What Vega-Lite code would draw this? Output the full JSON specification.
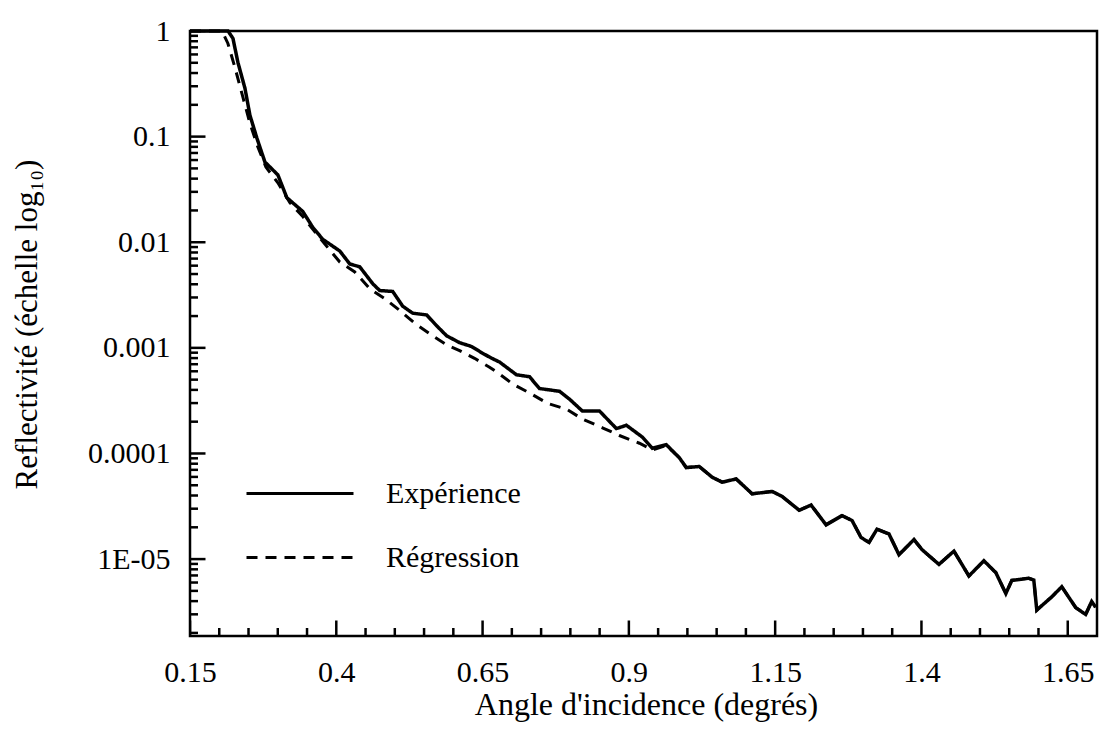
{
  "$schema": "https://vega.github.io/schema/vega-lite/v6.json",
  "autosize": {"type": "none"},
  "padding": {"left": 190, "top": 31, "right": 5, "bottom": 99},
  "width": 907,
  "height": 605,
  "background": "white",
  "config": {
    "view": {"stroke": "black", "strokeWidth": 2.5},
    "font": "Liberation Serif",
    "axis": {"grid": false, "domain": false, "ticks": false, "labelColor": "black", "titleColor": "black", "labelFont": "Liberation Serif", "titleFont": "Liberation Serif", "titleFontWeight": "normal", "labelFontSize": 30, "titleFontSize": 31}
  },
  "datasets": {
    "curves": [
      {"serie": "Expérience", "angle": 0.150, "R": 1},
      {"serie": "Expérience", "angle": 0.193, "R": 1},
      {"serie": "Expérience", "angle": 0.215, "R": 1},
      {"serie": "Expérience", "angle": 0.2234, "R": 0.851},
      {"serie": "Expérience", "angle": 0.2319, "R": 0.504},
      {"serie": "Expérience", "angle": 0.2439, "R": 0.287},
      {"serie": "Expérience", "angle": 0.2524, "R": 0.1595},
      {"serie": "Expérience", "angle": 0.2643, "R": 0.0968},
      {"serie": "Expérience", "angle": 0.2780, "R": 0.0575},
      {"serie": "Expérience", "angle": 0.3002, "R": 0.0434},
      {"serie": "Expérience", "angle": 0.3155, "R": 0.0264},
      {"serie": "Expérience", "angle": 0.3428, "R": 0.01954},
      {"serie": "Expérience", "angle": 0.3599, "R": 0.0138},
      {"serie": "Expérience", "angle": 0.3770, "R": 0.01064},
      {"serie": "Expérience", "angle": 0.4060, "R": 0.00826},
      {"serie": "Expérience", "angle": 0.4230, "R": 0.00623},
      {"serie": "Expérience", "angle": 0.4401, "R": 0.00585},
      {"serie": "Expérience", "angle": 0.4623, "R": 0.00405},
      {"serie": "Expérience", "angle": 0.4742, "R": 0.00349},
      {"serie": "Expérience", "angle": 0.4964, "R": 0.00342},
      {"serie": "Expérience", "angle": 0.5135, "R": 0.00248},
      {"serie": "Expérience", "angle": 0.5305, "R": 0.00213},
      {"serie": "Expérience", "angle": 0.5544, "R": 0.00205},
      {"serie": "Expérience", "angle": 0.5715, "R": 0.00162},
      {"serie": "Expérience", "angle": 0.5886, "R": 0.00130},
      {"serie": "Expérience", "angle": 0.6107, "R": 0.00112},
      {"serie": "Expérience", "angle": 0.6312, "R": 0.00103},
      {"serie": "Expérience", "angle": 0.6500, "R": 0.000889},
      {"serie": "Expérience", "angle": 0.6654, "R": 0.000798},
      {"serie": "Expérience", "angle": 0.6790, "R": 0.000734},
      {"serie": "Expérience", "angle": 0.7080, "R": 0.000556},
      {"serie": "Expérience", "angle": 0.7302, "R": 0.000533},
      {"serie": "Expérience", "angle": 0.7473, "R": 0.000412},
      {"serie": "Expérience", "angle": 0.7814, "R": 0.000388},
      {"serie": "Expérience", "angle": 0.7985, "R": 0.000327},
      {"serie": "Expérience", "angle": 0.8206, "R": 0.000252},
      {"serie": "Expérience", "angle": 0.8496, "R": 0.000253},
      {"serie": "Expérience", "angle": 0.8787, "R": 0.000172},
      {"serie": "Expérience", "angle": 0.8957, "R": 0.000185},
      {"serie": "Expérience", "angle": 0.9230, "R": 0.000143},
      {"serie": "Expérience", "angle": 0.9401, "R": 0.000112},
      {"serie": "Expérience", "angle": 0.9640, "R": 0.000121},
      {"serie": "Expérience", "angle": 0.9862, "R": 0.0000912},
      {"serie": "Expérience", "angle": 0.9981, "R": 0.0000735},
      {"serie": "Expérience", "angle": 1.0203, "R": 0.0000753},
      {"serie": "Expérience", "angle": 1.0425, "R": 0.0000595},
      {"serie": "Expérience", "angle": 1.0595, "R": 0.0000535},
      {"serie": "Expérience", "angle": 1.0834, "R": 0.0000574},
      {"serie": "Expérience", "angle": 1.1107, "R": 0.0000415},
      {"serie": "Expérience", "angle": 1.1449, "R": 0.0000437},
      {"serie": "Expérience", "angle": 1.1619, "R": 0.0000392},
      {"serie": "Expérience", "angle": 1.1910, "R": 0.0000290},
      {"serie": "Expérience", "angle": 1.2114, "R": 0.0000325},
      {"serie": "Expérience", "angle": 1.2370, "R": 0.0000211},
      {"serie": "Expérience", "angle": 1.2643, "R": 0.0000258},
      {"serie": "Expérience", "angle": 1.2814, "R": 0.0000232},
      {"serie": "Expérience", "angle": 1.2968, "R": 0.0000160},
      {"serie": "Expérience", "angle": 1.3104, "R": 0.0000144},
      {"serie": "Expérience", "angle": 1.3241, "R": 0.0000192},
      {"serie": "Expérience", "angle": 1.3445, "R": 0.0000173},
      {"serie": "Expérience", "angle": 1.3616, "R": 0.0000110},
      {"serie": "Expérience", "angle": 1.3872, "R": 0.0000153},
      {"serie": "Expérience", "angle": 1.4009, "R": 0.0000123},
      {"serie": "Expérience", "angle": 1.4299, "R": 0.00000891},
      {"serie": "Expérience", "angle": 1.4555, "R": 0.0000119},
      {"serie": "Expérience", "angle": 1.4811, "R": 0.00000692},
      {"serie": "Expérience", "angle": 1.5067, "R": 0.00000964},
      {"serie": "Expérience", "angle": 1.5271, "R": 0.00000745},
      {"serie": "Expérience", "angle": 1.5442, "R": 0.00000472},
      {"serie": "Expérience", "angle": 1.5544, "R": 0.00000628},
      {"serie": "Expérience", "angle": 1.5834, "R": 0.00000659},
      {"serie": "Expérience", "angle": 1.5920, "R": 0.00000633},
      {"serie": "Expérience", "angle": 1.5971, "R": 0.00000329},
      {"serie": "Expérience", "angle": 1.6227, "R": 0.00000439},
      {"serie": "Expérience", "angle": 1.6398, "R": 0.00000547},
      {"serie": "Expérience", "angle": 1.6637, "R": 0.00000347},
      {"serie": "Expérience", "angle": 1.6806, "R": 0.00000299},
      {"serie": "Expérience", "angle": 1.6909, "R": 0.00000397},
      {"serie": "Expérience", "angle": 1.6977, "R": 0.00000350},
      {"serie": "Régression", "angle": 0.150, "R": 1},
      {"serie": "Régression", "angle": 0.2046, "R": 1},
      {"serie": "Régression", "angle": 0.2148, "R": 0.762},
      {"serie": "Régression", "angle": 0.2268, "R": 0.452},
      {"serie": "Régression", "angle": 0.2404, "R": 0.236},
      {"serie": "Régression", "angle": 0.2524, "R": 0.134},
      {"serie": "Régression", "angle": 0.2660, "R": 0.0796},
      {"serie": "Régression", "angle": 0.2797, "R": 0.0516},
      {"serie": "Régression", "angle": 0.3002, "R": 0.0365},
      {"serie": "Régression", "angle": 0.3206, "R": 0.0237},
      {"serie": "Régression", "angle": 0.3428, "R": 0.0175},
      {"serie": "Régression", "angle": 0.3667, "R": 0.01188},
      {"serie": "Régression", "angle": 0.4060, "R": 0.00649},
      {"serie": "Régression", "angle": 0.4316, "R": 0.00523},
      {"serie": "Régression", "angle": 0.4572, "R": 0.00363},
      {"serie": "Régression", "angle": 0.4828, "R": 0.00293},
      {"serie": "Régression", "angle": 0.5084, "R": 0.00226},
      {"serie": "Régression", "angle": 0.5340, "R": 0.00171},
      {"serie": "Régression", "angle": 0.5630, "R": 0.00132},
      {"serie": "Régression", "angle": 0.5886, "R": 0.00107},
      {"serie": "Régression", "angle": 0.6107, "R": 0.000942},
      {"serie": "Régression", "angle": 0.6363, "R": 0.000796},
      {"serie": "Régression", "angle": 0.6619, "R": 0.000656},
      {"serie": "Régression", "angle": 0.6790, "R": 0.000565},
      {"serie": "Régression", "angle": 0.7012, "R": 0.000456},
      {"serie": "Régression", "angle": 0.7353, "R": 0.000361},
      {"serie": "Régression", "angle": 0.7609, "R": 0.000298},
      {"serie": "Régression", "angle": 0.7933, "R": 0.000263},
      {"serie": "Régression", "angle": 0.8206, "R": 0.000212},
      {"serie": "Régression", "angle": 0.8548, "R": 0.000175},
      {"serie": "Régression", "angle": 0.8838, "R": 0.000148},
      {"serie": "Régression", "angle": 0.9180, "R": 0.000125},
      {"serie": "Régression", "angle": 0.9401, "R": 0.000108},
      {"serie": "Régression", "angle": 0.9640, "R": 0.000119},
      {"serie": "Régression", "angle": 0.9862, "R": 0.0000912},
      {"serie": "Régression", "angle": 0.9981, "R": 0.0000735},
      {"serie": "Régression", "angle": 1.0203, "R": 0.0000753},
      {"serie": "Régression", "angle": 1.0425, "R": 0.0000595},
      {"serie": "Régression", "angle": 1.0595, "R": 0.0000535},
      {"serie": "Régression", "angle": 1.0834, "R": 0.0000574},
      {"serie": "Régression", "angle": 1.1107, "R": 0.0000415},
      {"serie": "Régression", "angle": 1.1449, "R": 0.0000437},
      {"serie": "Régression", "angle": 1.1619, "R": 0.0000392},
      {"serie": "Régression", "angle": 1.1910, "R": 0.0000290},
      {"serie": "Régression", "angle": 1.2114, "R": 0.0000325},
      {"serie": "Régression", "angle": 1.2370, "R": 0.0000211},
      {"serie": "Régression", "angle": 1.2643, "R": 0.0000258},
      {"serie": "Régression", "angle": 1.2814, "R": 0.0000232},
      {"serie": "Régression", "angle": 1.2968, "R": 0.0000160},
      {"serie": "Régression", "angle": 1.3104, "R": 0.0000144},
      {"serie": "Régression", "angle": 1.3241, "R": 0.0000192},
      {"serie": "Régression", "angle": 1.3445, "R": 0.0000173},
      {"serie": "Régression", "angle": 1.3616, "R": 0.0000110},
      {"serie": "Régression", "angle": 1.3872, "R": 0.0000153},
      {"serie": "Régression", "angle": 1.4009, "R": 0.0000123},
      {"serie": "Régression", "angle": 1.4299, "R": 0.00000891},
      {"serie": "Régression", "angle": 1.4555, "R": 0.0000119},
      {"serie": "Régression", "angle": 1.4811, "R": 0.00000692},
      {"serie": "Régression", "angle": 1.5067, "R": 0.00000964},
      {"serie": "Régression", "angle": 1.5271, "R": 0.00000745},
      {"serie": "Régression", "angle": 1.5442, "R": 0.00000472},
      {"serie": "Régression", "angle": 1.5544, "R": 0.00000628},
      {"serie": "Régression", "angle": 1.5834, "R": 0.00000659},
      {"serie": "Régression", "angle": 1.5920, "R": 0.00000633},
      {"serie": "Régression", "angle": 1.5971, "R": 0.00000329},
      {"serie": "Régression", "angle": 1.6227, "R": 0.00000439},
      {"serie": "Régression", "angle": 1.6398, "R": 0.00000547},
      {"serie": "Régression", "angle": 1.6637, "R": 0.00000347},
      {"serie": "Régression", "angle": 1.6806, "R": 0.00000299},
      {"serie": "Régression", "angle": 1.6909, "R": 0.00000397},
      {"serie": "Régression", "angle": 1.6977, "R": 0.00000350}
    ],
    "xticks": [
      {"value": 0.15, "kind": "major"}, {"value": 0.2, "kind": "minor"}, {"value": 0.25, "kind": "minor"}, {"value": 0.3, "kind": "minor"}, {"value": 0.35, "kind": "minor"},
      {"value": 0.4, "kind": "major"}, {"value": 0.45, "kind": "minor"}, {"value": 0.5, "kind": "minor"}, {"value": 0.55, "kind": "minor"}, {"value": 0.6, "kind": "minor"},
      {"value": 0.65, "kind": "major"}, {"value": 0.7, "kind": "minor"}, {"value": 0.75, "kind": "minor"}, {"value": 0.8, "kind": "minor"}, {"value": 0.85, "kind": "minor"},
      {"value": 0.9, "kind": "major"}, {"value": 0.95, "kind": "minor"}, {"value": 1.0, "kind": "minor"}, {"value": 1.05, "kind": "minor"}, {"value": 1.1, "kind": "minor"},
      {"value": 1.15, "kind": "major"}, {"value": 1.2, "kind": "minor"}, {"value": 1.25, "kind": "minor"}, {"value": 1.3, "kind": "minor"}, {"value": 1.35, "kind": "minor"},
      {"value": 1.4, "kind": "major"}, {"value": 1.45, "kind": "minor"}, {"value": 1.5, "kind": "minor"}, {"value": 1.55, "kind": "minor"}, {"value": 1.6, "kind": "minor"},
      {"value": 1.65, "kind": "major"}
    ],
    "yticks": [
      {"value": 1, "kind": "major"}, {"value": 0.1, "kind": "major"}, {"value": 0.01, "kind": "major"}, {"value": 0.001, "kind": "major"}, {"value": 0.0001, "kind": "major"}, {"value": 0.00001, "kind": "major"},
      {"value": 0.000002, "kind": "minor"}, {"value": 0.000003, "kind": "minor"}, {"value": 0.000004, "kind": "minor"}, {"value": 0.000005, "kind": "minor"}, {"value": 0.000006, "kind": "minor"}, {"value": 0.000007, "kind": "minor"}, {"value": 0.000008, "kind": "minor"}, {"value": 0.000009, "kind": "minor"},
      {"value": 0.00002, "kind": "minor"}, {"value": 0.00003, "kind": "minor"}, {"value": 0.00004, "kind": "minor"}, {"value": 0.00005, "kind": "minor"}, {"value": 0.00006, "kind": "minor"}, {"value": 0.00007, "kind": "minor"}, {"value": 0.00008, "kind": "minor"}, {"value": 0.00009, "kind": "minor"},
      {"value": 0.0002, "kind": "minor"}, {"value": 0.0003, "kind": "minor"}, {"value": 0.0004, "kind": "minor"}, {"value": 0.0005, "kind": "minor"}, {"value": 0.0006, "kind": "minor"}, {"value": 0.0007, "kind": "minor"}, {"value": 0.0008, "kind": "minor"}, {"value": 0.0009, "kind": "minor"},
      {"value": 0.002, "kind": "minor"}, {"value": 0.003, "kind": "minor"}, {"value": 0.004, "kind": "minor"}, {"value": 0.005, "kind": "minor"}, {"value": 0.006, "kind": "minor"}, {"value": 0.007, "kind": "minor"}, {"value": 0.008, "kind": "minor"}, {"value": 0.009, "kind": "minor"},
      {"value": 0.02, "kind": "minor"}, {"value": 0.03, "kind": "minor"}, {"value": 0.04, "kind": "minor"}, {"value": 0.05, "kind": "minor"}, {"value": 0.06, "kind": "minor"}, {"value": 0.07, "kind": "minor"}, {"value": 0.08, "kind": "minor"}, {"value": 0.09, "kind": "minor"},
      {"value": 0.2, "kind": "minor"}, {"value": 0.3, "kind": "minor"}, {"value": 0.4, "kind": "minor"}, {"value": 0.5, "kind": "minor"}, {"value": 0.6, "kind": "minor"}, {"value": 0.7, "kind": "minor"}, {"value": 0.8, "kind": "minor"}, {"value": 0.9, "kind": "minor"}
    ]
  },
  "layer": [
    {
      "data": {"name": "xticks"},
      "mark": {"type": "tick", "orient": "vertical", "color": "black", "opacity": 1, "thickness": 2.5, "clip": true},
      "encoding": {
        "x": {"field": "value", "type": "quantitative", "scale": {"domain": [0.15, 1.7], "nice": false, "zero": false},
          "axis": {"orient": "bottom", "values": [0.15, 0.4, 0.65, 0.9, 1.15, 1.4, 1.65], "format": ".2~f", "labelPadding": 21, "labelFlush": false, "title": "Angle d'incidence (degrés)", "titleFontSize": 32, "titleX": 456, "titleY": 53, "titleBaseline": "top", "titleAlign": "center"}},
        "y": {"datum": 0.00000187, "type": "quantitative", "scale": {"type": "log", "domain": [0.00000187, 1], "nice": false},
          "axis": {"orient": "left", "values": [1, 0.1, 0.01, 0.001, 0.0001, 0.00001], "labelExpr": "datum.value < 0.00005 ? '1E-05' : format(datum.value, '.4~f')", "labelPadding": 20, "labelFlush": false, "title": "Reflectivité (échelle log₁₀)", "titleX": -153.5, "titleY": 293, "titleAngle": -90, "titleBaseline": "alphabetic", "titleAlign": "center"}},
        "size": {"field": "kind", "type": "nominal", "scale": {"domain": ["major", "minor"], "range": [31, 16]}, "legend": null}
      }
    },
    {
      "data": {"name": "yticks"},
      "mark": {"type": "tick", "orient": "horizontal", "color": "black", "opacity": 1, "thickness": 2.5, "clip": true},
      "encoding": {
        "x": {"datum": 0.15, "type": "quantitative", "scale": {"domain": [0.15, 1.7], "nice": false, "zero": false},
          "axis": {"orient": "bottom", "values": [0.15, 0.4, 0.65, 0.9, 1.15, 1.4, 1.65], "format": ".2~f", "labelPadding": 21, "labelFlush": false, "title": "Angle d'incidence (degrés)", "titleFontSize": 32, "titleX": 456, "titleY": 53, "titleBaseline": "top", "titleAlign": "center"}},
        "y": {"field": "value", "type": "quantitative", "scale": {"type": "log", "domain": [0.00000187, 1], "nice": false},
          "axis": {"orient": "left", "values": [1, 0.1, 0.01, 0.001, 0.0001, 0.00001], "labelExpr": "datum.value < 0.00005 ? '1E-05' : format(datum.value, '.4~f')", "labelPadding": 20, "labelFlush": false, "title": "Reflectivité (échelle log₁₀)", "titleX": -153.5, "titleY": 293, "titleAngle": -90, "titleBaseline": "alphabetic", "titleAlign": "center"}},
        "size": {"field": "kind", "type": "nominal", "scale": {"domain": ["major", "minor"], "range": [31, 16]}, "legend": null}
      }
    },
    {
      "data": {"name": "curves"},
      "transform": [{"filter": "datum.serie === 'Régression'"}],
      "mark": {"type": "line", "color": "black", "strokeWidth": 3, "clip": false},
      "encoding": {
        "x": {"field": "angle", "type": "quantitative", "scale": {"domain": [0.15, 1.7], "nice": false, "zero": false},
          "axis": {"orient": "bottom", "values": [0.15, 0.4, 0.65, 0.9, 1.15, 1.4, 1.65], "format": ".2~f", "labelPadding": 21, "labelFlush": false, "title": "Angle d'incidence (degrés)", "titleFontSize": 32, "titleX": 456, "titleY": 53, "titleBaseline": "top", "titleAlign": "center"}},
        "y": {"field": "R", "type": "quantitative", "scale": {"type": "log", "domain": [0.00000187, 1], "nice": false},
          "axis": {"orient": "left", "values": [1, 0.1, 0.01, 0.001, 0.0001, 0.00001], "labelExpr": "datum.value < 0.00005 ? '1E-05' : format(datum.value, '.4~f')", "labelPadding": 20, "labelFlush": false, "title": "Reflectivité (échelle log₁₀)", "titleX": -153.5, "titleY": 293, "titleAngle": -90, "titleBaseline": "alphabetic", "titleAlign": "center"}},
        "strokeDash": {"field": "serie", "type": "nominal", "scale": {"domain": ["Régression"], "range": [[11, 8]]},
          "legend": {"orient": "none", "legendX": 55, "legendY": 471.5, "title": null, "padding": 0, "symbolType": "stroke", "symbolSize": 11449, "symbolStrokeWidth": 3, "symbolStrokeColor": "black", "labelOffset": 31, "labelFont": "Liberation Serif", "labelFontSize": 30, "labelColor": "black"}}
      }
    },
    {
      "data": {"name": "curves"},
      "transform": [{"filter": "datum.serie === 'Expérience'"}],
      "mark": {"type": "line", "color": "black", "strokeWidth": 3.5, "clip": false},
      "encoding": {
        "x": {"field": "angle", "type": "quantitative", "scale": {"domain": [0.15, 1.7], "nice": false, "zero": false},
          "axis": {"orient": "bottom", "values": [0.15, 0.4, 0.65, 0.9, 1.15, 1.4, 1.65], "format": ".2~f", "labelPadding": 21, "labelFlush": false, "title": "Angle d'incidence (degrés)", "titleFontSize": 32, "titleX": 456, "titleY": 53, "titleBaseline": "top", "titleAlign": "center"}},
        "y": {"field": "R", "type": "quantitative", "scale": {"type": "log", "domain": [0.00000187, 1], "nice": false},
          "axis": {"orient": "left", "values": [1, 0.1, 0.01, 0.001, 0.0001, 0.00001], "labelExpr": "datum.value < 0.00005 ? '1E-05' : format(datum.value, '.4~f')", "labelPadding": 20, "labelFlush": false, "title": "Reflectivité (échelle log₁₀)", "titleX": -153.5, "titleY": 293, "titleAngle": -90, "titleBaseline": "alphabetic", "titleAlign": "center"}},
        "strokeDash": {"field": "serie", "type": "nominal", "scale": {"domain": ["Expérience"], "range": [[1, 0]]},
          "legend": {"orient": "none", "legendX": 55, "legendY": 407.5, "title": null, "padding": 0, "symbolType": "stroke", "symbolSize": 11449, "symbolStrokeWidth": 3, "symbolStrokeColor": "black", "labelOffset": 31, "labelFont": "Liberation Serif", "labelFontSize": 30, "labelColor": "black"}}
      }
    }
  ],
  "resolve": {"scale": {"strokeDash": "independent"}, "legend": {"strokeDash": "independent"}}
}
